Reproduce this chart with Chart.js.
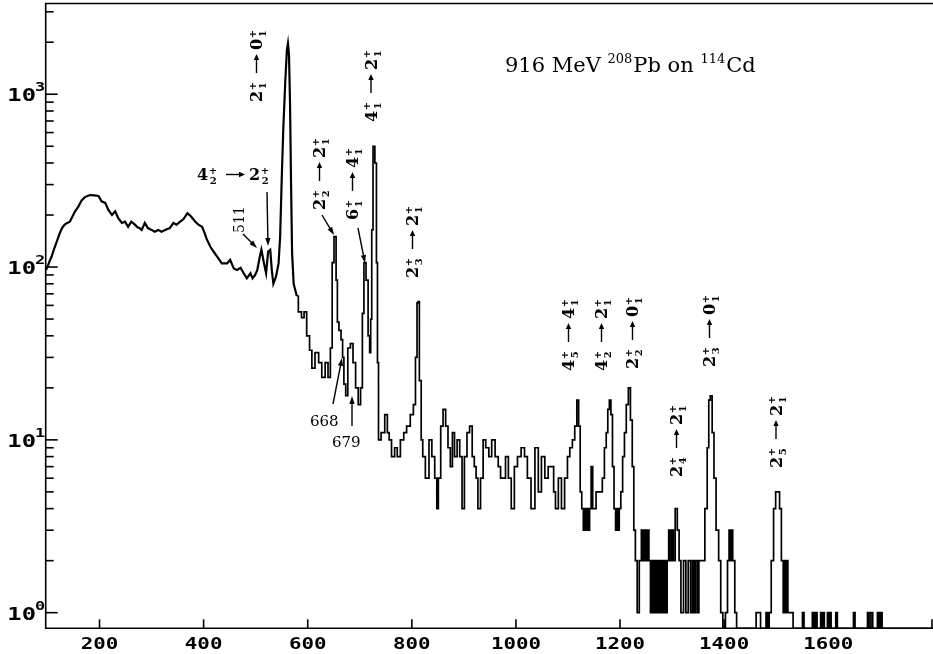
<!DOCTYPE html>
<html>
<head>
<meta charset="utf-8">
<script src="https://cdn.jsdelivr.net/npm/chart.js@4/dist/chart.umd.min.js"></script>
<style>
  html, body { margin: 0; padding: 0; background: #fff; }
  canvas { display: block; }
</style>
</head>
<body>
<canvas id="spectrum" width="933" height="654"></canvas>
<script>
// gamma-ray energy (keV) and counts per channel
const energyLow = [
  97, 100, 104, 108, 113, 117, 124, 128, 133, 138,
  143, 148, 153, 159, 166, 172, 177, 182, 190, 198,
  204, 211, 217, 224, 230, 236, 243, 249, 255, 261,
  268, 273, 277, 281, 287, 293, 300, 306, 313, 319,
  326, 335, 342, 348, 355, 361, 369, 376, 384, 390,
  397, 402, 406, 413, 419, 426, 435, 445, 451, 458,
  464, 471, 477, 483, 490, 494, 499, 503, 508, 511,
  516, 520, 524, 528, 531, 534, 539, 544, 547, 550,
  553, 557, 560, 562, 564, 566, 568, 570, 573, 579
];
const countsLow = [
  96, 100, 108, 115, 128, 138, 158, 168, 176, 180,
  183, 196, 210, 223, 244, 254, 258, 261, 260, 258,
  240, 235, 214, 200, 210, 192, 180, 183, 171, 183,
  176, 170, 168, 164, 180, 168, 164, 160, 164, 160,
  164, 168, 180, 176, 183, 189, 205, 196, 183, 176,
  171, 157, 145, 131, 123, 115, 105, 105, 110, 98,
  96, 99, 92, 86, 92, 86, 90, 96, 115, 126,
  105, 92, 123, 126, 96, 80, 88, 105, 150, 319,
  621, 1210, 1800, 1970, 1700, 900, 300, 120, 80, 68
];

const energyMid = [
  585, 591, 595, 601, 606, 610, 618, 624, 630, 637,
  641, 646, 648, 653, 656, 658, 662, 666, 668, 671,
  675, 679, 685, 689, 695, 699, 704, 706, 710, 714,
  718, 720, 722, 724, 727, 731, 733, 735, 737, 745,
  751, 755, 758, 764, 770, 774, 782, 787, 793, 801,
  805, 809, 811, 813, 816, 820, 822, 830, 836, 841,
  847, 849, 853, 858, 862, 868, 871, 877, 879, 885,
  889, 895, 898, 904, 908, 914, 918, 922, 925, 929,
  935, 939, 945, 951, 956, 964, 968, 973, 977, 983,
  988, 994, 1000, 1006, 1014, 1019, 1025
];
const countsMid = [
  55, 51, 55, 40, 33, 26, 32, 28, 23, 28,
  23, 34, 106, 150, 84, 48, 43, 38, 30, 21,
  18, 34, 36, 28, 20, 16, 20, 54, 106, 84,
  40, 32, 50, 164, 500, 400, 106, 28, 10, 11,
  14, 11, 10, 8, 9, 8, 10, 11, 12, 14,
  16, 30, 62, 63, 22, 10, 8, 6, 10, 8,
  6, 4, 6, 12, 15, 12, 9, 7, 11, 8,
  10, 8, 4, 8, 11, 12, 8, 7, 6, 4,
  6, 10, 9, 8, 10, 8, 7, 6, 6, 8,
  6, 4, 7, 8, 9, 8, 6
];

const energyHigh = [
  1033, 1040, 1046, 1052, 1059, 1065, 1071, 1074, 1078, 1085,
  1090, 1097, 1101, 1106, 1111, 1115, 1119, 1122, 1125, 1128,
  1131, 1133, 1135, 1137, 1140, 1143, 1146, 1149, 1152, 1156,
  1160, 1164, 1168, 1172, 1175, 1178, 1181, 1184, 1187, 1190,
  1193, 1195, 1197, 1200, 1203, 1207, 1210, 1214, 1218, 1222,
  1225, 1228, 1231
];
const countsHigh = [
  4, 9, 5, 8, 6, 7, 7, 5, 4, 6,
  4, 6, 8, 9, 10, 12, 17, 12, 5, 4,
  3, 4, 3, 4, 3, 4, 7, 4, 4, 5,
  5, 5, 6, 9, 11, 15, 17, 14, 7, 4,
  3, 4, 3, 4, 5, 8, 11, 16, 20, 13,
  7, 3, 2
];

const energyTail = [
  1235, 1239, 1243, 1245, 1248, 1251, 1254, 1257, 1260, 1262,
  1264, 1266, 1268, 1270, 1272, 1274, 1276, 1278, 1280, 1282,
  1284, 1286, 1289, 1292, 1295, 1298, 1301, 1304, 1308, 1312,
  1315, 1319, 1325, 1328, 1334, 1337, 1341, 1343, 1347, 1350,
  1353, 1360, 1366, 1369, 1372, 1375, 1379, 1382, 1387, 1392,
  1395, 1400, 1405, 1408, 1411, 1413, 1415, 1418, 1423, 1425,
  1460, 1463, 1468, 1472, 1479, 1482, 1485, 1488, 1493, 1497,
  1501, 1505, 1508, 1512, 1515, 1517, 1519, 1521, 1524, 1531,
  1534, 1549, 1552, 1555, 1568, 1571, 1574, 1577, 1580, 1584,
  1587, 1589, 1591, 1594, 1597, 1600, 1602, 1604, 1607, 1613,
  1616, 1619, 1647, 1650, 1653, 1674, 1677, 1680, 1684, 1687,
  1693, 1696, 1699, 1702, 1705, 1801
];
const countsTail = [
  1, 2, 3, 2, 3, 2, 3, 2, 1, 2,
  1, 2, 1, 2, 1, 2, 1, 2, 1, 2,
  1, 2, 1, 2, 3, 2, 3, 2, 4, 3,
  2, 1, 2, 1, 2, 1, 2, 1, 2, 1,
  2, 2, 4, 9, 17, 18, 11, 6, 3, 2,
  1, 0, 1, 2, 3, 2, 3, 2, 1, 0,
  0, 1, 1, 0, 0, 1, 0, 1, 2, 4,
  5, 5, 4, 2, 1, 2, 1, 2, 1, 1,
  0, 0, 1, 0, 0, 1, 0, 1, 0, 0,
  1, 0, 1, 0, 0, 1, 0, 1, 0, 0,
  1, 0, 0, 1, 0, 0, 1, 0, 1, 0,
  0, 1, 0, 1, 0, 0
];

const xTicks = [200, 400, 600, 800, 1000, 1200, 1400, 1600, 1800];
const xTickLabels = ["200", "400", "600", "800", "1000", "1200", "1400", "1600"];
const yExponents = [0, 1, 2, 3];

const X_MIN = 96.6, X_MAX = 1801.3;
const Y_MIN = 0.812, Y_MAX = 3350;

// level labels: [spin, index]; positions are in canvas pixels
const transitions = [
  { from: ["2", "1"], to: ["0", "1"], x: 262, y: 102, vertical: true },
  { from: ["4", "2"], to: ["2", "2"], x: 197, y: 180, vertical: false },
  { from: ["2", "2"], to: ["2", "1"], x: 325, y: 210, vertical: true },
  { from: ["6", "1"], to: ["4", "1"], x: 358, y: 220, vertical: true },
  { from: ["4", "1"], to: ["2", "1"], x: 376.5, y: 122, vertical: true },
  { from: ["2", "3"], to: ["2", "1"], x: 418, y: 278, vertical: true },
  { from: ["4", "5"], to: ["4", "1"], x: 574, y: 371, vertical: true },
  { from: ["4", "2"], to: ["2", "1"], x: 607, y: 371, vertical: true },
  { from: ["2", "2"], to: ["0", "1"], x: 638, y: 369, vertical: true },
  { from: ["2", "3"], to: ["0", "1"], x: 715, y: 367, vertical: true },
  { from: ["2", "4"], to: ["2", "1"], x: 682, y: 477, vertical: true },
  { from: ["2", "5"], to: ["2", "1"], x: 781.5, y: 468, vertical: true }
];
const pointers = [
  [267, 192, 268, 246],
  [243, 234, 257, 248],
  [322, 215, 334, 235],
  [358, 228, 365, 263],
  [333, 404, 342, 358],
  [352, 426, 352, 396]
];

const SERIF = '"DejaVu Serif", "Liberation Serif", serif';
const MONO = '"DejaVu Sans Mono", "Liberation Mono", monospace';

const toPoint = (e, c) => ({ x: e, y: c > 0 ? c : Y_MIN }); // empty channels sit on the axis
const lowPoints = energyLow.map((e, i) => toPoint(e, countsLow[i]));
const histEnergy = [...energyMid, ...energyHigh, ...energyTail];
const histCounts = [...countsMid, ...countsHigh, ...countsTail];
const histPoints = [lowPoints[lowPoints.length - 1], ...histEnergy.map((e, i) => toPoint(e, histCounts[i]))];

function wideText(ctx, text, x, y, size, stretch, align) {
  ctx.save();
  ctx.font = "bold " + size + "px " + MONO;
  const w = ctx.measureText(text).width * stretch;
  let left = x;
  if (align === "center") left = x - w / 2;
  if (align === "right") left = x - w;
  ctx.translate(left, y);
  ctx.scale(stretch, 1);
  ctx.textAlign = "left";
  ctx.fillText(text, 0, 0);
  ctx.restore();
  return w;
}

function drawLevel(ctx, level, x0) {
  ctx.font = "bold 16px " + SERIF;
  ctx.fillText(level[0], x0, 0);
  const w = ctx.measureText(level[0]).width;
  ctx.font = "bold 10px " + SERIF;
  ctx.fillText("+", x0 + w + 0.5, -6.5);
  ctx.fillText(level[1], x0 + w + 1.5, 4);
  return w + Math.max(ctx.measureText("+").width, ctx.measureText(level[1]).width + 1) + 0.5;
}

function drawTransition(ctx, t) {
  ctx.save();
  ctx.translate(t.x, t.y);
  if (t.vertical) ctx.rotate(-Math.PI / 2);
  let pos = drawLevel(ctx, t.from, 0) + 9;
  ctx.lineWidth = 1.4;
  ctx.beginPath();
  ctx.moveTo(pos, -5.5);
  ctx.lineTo(pos + 16, -5.5);
  ctx.stroke();
  ctx.beginPath();
  ctx.moveTo(pos + 19, -5.5);
  ctx.lineTo(pos + 13, -8.2);
  ctx.lineTo(pos + 13, -2.8);
  ctx.closePath();
  ctx.fill();
  pos += 23;
  drawLevel(ctx, t.to, pos);
  ctx.restore();
}

function drawPointer(ctx, p) {
  const [x1, y1, x2, y2] = p;
  const a = Math.atan2(y2 - y1, x2 - x1);
  ctx.lineWidth = 1.4;
  ctx.beginPath();
  ctx.moveTo(x1, y1);
  ctx.lineTo(x2 - 4 * Math.cos(a), y2 - 4 * Math.sin(a));
  ctx.stroke();
  ctx.beginPath();
  ctx.moveTo(x2, y2);
  ctx.lineTo(x2 - 8 * Math.cos(a) + 2.6 * Math.sin(a), y2 - 8 * Math.sin(a) - 2.6 * Math.cos(a));
  ctx.lineTo(x2 - 8 * Math.cos(a) - 2.6 * Math.sin(a), y2 - 8 * Math.sin(a) + 2.6 * Math.cos(a));
  ctx.closePath();
  ctx.fill();
}

function drawTitle(ctx) {
  const parts = [["916 MeV ", false], ["208", true], ["Pb on ", false], ["114", true], ["Cd", false]];
  let x = 505;
  const y = 72;
  parts.forEach(([text, sup]) => {
    ctx.font = (sup ? "13px " : "21px ") + SERIF;
    ctx.fillText(text, x, sup ? y - 9 : y);
    x += ctx.measureText(text).width + (sup ? 1 : 0);
  });
}

const framePlugin = {
  id: "frame",
  afterDraw(chart) {
    const { ctx, chartArea: area, scales } = chart;
    const xs = scales.x, ys = scales.y;
    ctx.save();
    ctx.strokeStyle = "#000";
    ctx.fillStyle = "#000";
    ctx.lineCap = "butt";

    // frame
    ctx.lineWidth = 1.6;
    ctx.beginPath();
    ctx.moveTo(area.right, area.top);
    ctx.lineTo(area.left, area.top);
    ctx.lineTo(area.left, area.bottom);
    ctx.lineTo(area.right, area.bottom);
    ctx.stroke();

    // x ticks point up into the plot
    xTicks.forEach(v => {
      const px = Math.min(xs.getPixelForValue(v), area.right - 1);
      ctx.beginPath();
      ctx.moveTo(px, area.bottom);
      ctx.lineTo(px, area.bottom - 9);
      ctx.stroke();
    });
    xTickLabels.forEach(label => {
      const px = xs.getPixelForValue(Number(label));
      wideText(ctx, label, px, 648.5, 16, 1.3, "center");
    });

    // y ticks: decades long, 2..9 short
    yExponents.forEach(e => {
      for (let m = 1; m <= 9; m++) {
        const v = m * Math.pow(10, e);
        if (v < Y_MIN || v > Y_MAX) continue;
        const py = ys.getPixelForValue(v);
        ctx.beginPath();
        ctx.moveTo(area.left, py);
        ctx.lineTo(area.left + (m === 1 ? 12 : 8), py);
        ctx.stroke();
      }
      const py = ys.getPixelForValue(Math.pow(10, e));
      wideText(ctx, "10", 36, py + 7, 17, 1.4, "right");
      wideText(ctx, String(e), 35, py - 3, 13, 1.3, "left");
    });

    // annotations
    drawTitle(ctx);
    transitions.forEach(t => drawTransition(ctx, t));
    pointers.forEach(p => drawPointer(ctx, p));

    ctx.font = "14px " + SERIF;
    ctx.save();
    ctx.translate(244, 233);
    ctx.rotate(-Math.PI / 2);
    ctx.fillText("511", 0, 0);
    ctx.restore();
    ctx.font = "15px " + SERIF;
    ctx.fillText("668", 310, 426);
    ctx.fillText("679", 332, 447);
    ctx.restore();
  }
};

new Chart(document.getElementById("spectrum"), {
  type: "line",
  data: {
    datasets: [
      {
        data: lowPoints,
        borderColor: "#000",
        borderWidth: 2.2,
        pointRadius: 0,
        tension: 0,
        fill: false
      },
      {
        data: histPoints,
        stepped: "middle",
        borderColor: "#000",
        borderWidth: 1.7,
        pointRadius: 0,
        fill: false
      }
    ]
  },
  options: {
    responsive: false,
    animation: false,
    devicePixelRatio: 1,
    layout: { padding: { left: 45.7, top: 3.5, right: 0, bottom: 25.7 } },
    plugins: {
      legend: { display: false },
      tooltip: { enabled: false }
    },
    scales: {
      x: { type: "linear", min: X_MIN, max: X_MAX, display: false },
      y: { type: "logarithmic", min: Y_MIN, max: Y_MAX, display: false }
    }
  },
  plugins: [framePlugin]
});
</script>
</body>
</html>
